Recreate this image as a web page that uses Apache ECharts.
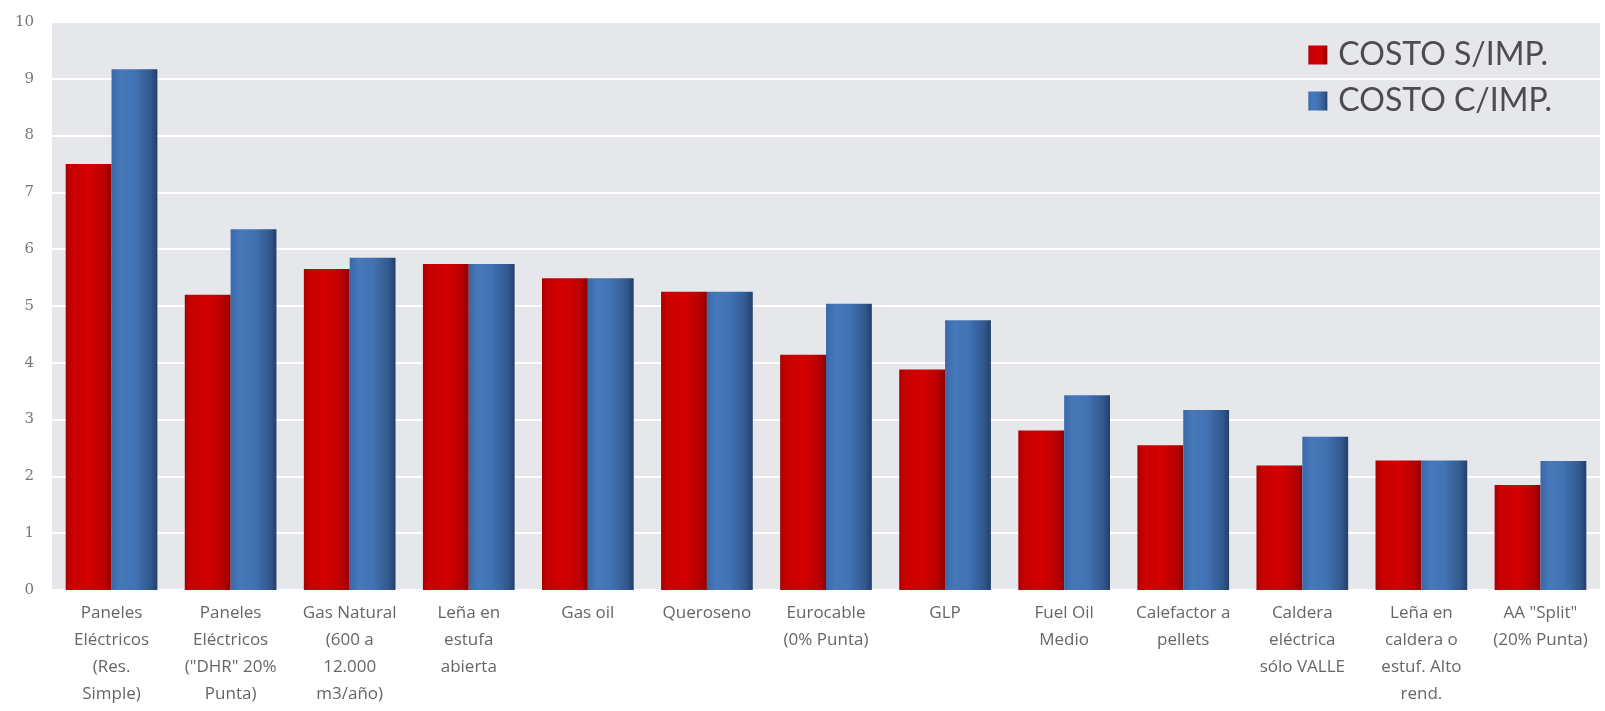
<!DOCTYPE html>
<html>
<head>
<meta charset="utf-8">
<script src="https://cdn.jsdelivr.net/npm/echarts@6/dist/echarts.min.js"></script>
<style>
  html, body { margin: 0; padding: 0; background: #ffffff; }
  #chart { width: 1605px; height: 711px; }
</style>
</head>
<body>
<div id="chart"></div>
<script>
// Heating options (category labels, wrapped as printed under each pair of bars)
const categories = [
  'Paneles\nEléctricos\n(Res.\nSimple)',
  'Paneles\nEléctricos\n("DHR" 20%\nPunta)',
  'Gas Natural\n(600 a\n12.000\nm3/año)',
  'Leña en\nestufa\nabierta',
  'Gas oil',
  'Queroseno',
  'Eurocable\n(0% Punta)',
  'GLP',
  'Fuel Oil\nMedio',
  'Calefactor a\npellets',
  'Caldera\neléctrica\nsólo VALLE',
  'Leña en\ncaldera o\nestuf. Alto\nrend.',
  'AA "Split"\n(20% Punta)'
];

// Cost without taxes
const costoSinImp = [7.5, 5.2, 5.65, 5.74, 5.49, 5.25, 4.14, 3.88, 2.81, 2.55, 2.19, 2.28, 1.85];
// Cost with taxes
const costoConImp = [9.17, 6.35, 5.85, 5.74, 5.49, 5.25, 5.04, 4.75, 3.43, 3.17, 2.70, 2.28, 2.27];

const yTicks = [0, 1, 2, 3, 4, 5, 6, 7, 8, 9, 10];

function hGradient(stops) {
  return new echarts.graphic.LinearGradient(0, 0, 1, 0,
    stops.map(([offset, color]) => ({ offset, color })));
}

const redFill = hGradient([[0, '#a80000'], [0.12, '#c60000'], [0.5, '#d40000'], [0.85, '#b80000'], [1, '#8e0000']]);
const blueFill = hGradient([[0, '#3a68a8'], [0.2, '#4679bb'], [0.5, '#4273b3'], [0.85, '#31598f'], [1, '#233f68']]);

const chart = echarts.init(document.getElementById('chart'), null, { renderer: 'canvas' });

chart.setOption({
  animation: false,
  backgroundColor: '#ffffff',
  grid: {
    left: 52, right: 5, top: 22, bottom: 121,
    show: true, backgroundColor: '#e5e7eb', borderWidth: 0
  },
  legend: {
    orient: 'vertical',
    right: 48,
    top: 33,
    itemWidth: 19,
    itemHeight: 19,
    itemGap: 12,
    icon: 'rect',
    textStyle: { fontFamily: 'Lato', fontSize: 32, color: '#4d4d4d', lineHeight: 34, padding: [0, 0, 0, 6] },
    data: ['COSTO S/IMP.', 'COSTO C/IMP.']
  },
  xAxis: {
    type: 'category',
    data: categories,
    axisLine: { show: false },
    axisTick: { show: false },
    axisLabel: {
      interval: 0,
      margin: 10,
      fontFamily: 'Open Sans',
      fontSize: 17,
      lineHeight: 27,
      color: '#666666',
      align: 'center',
      verticalAlign: 'top'
    }
  },
  yAxis: {
    type: 'value',
    min: yTicks[0],
    max: yTicks[yTicks.length - 1],
    interval: 1,
    axisLine: { show: false },
    axisTick: { show: false },
    axisLabel: {
      margin: 18,
      fontFamily: 'DejaVu Serif',
      fontSize: 15,
      color: '#777777'
    },
    splitLine: { show: true, lineStyle: { color: '#ffffff', width: 2 } }
  },
  series: [
    {
      name: 'COSTO S/IMP.',
      type: 'bar',
      data: costoSinImp,
      barGap: '0%',
      barCategoryGap: '23%',
      itemStyle: { color: redFill }
    },
    {
      name: 'COSTO C/IMP.',
      type: 'bar',
      data: costoConImp,
      itemStyle: { color: blueFill }
    }
  ]
});
</script>
</body>
</html>
